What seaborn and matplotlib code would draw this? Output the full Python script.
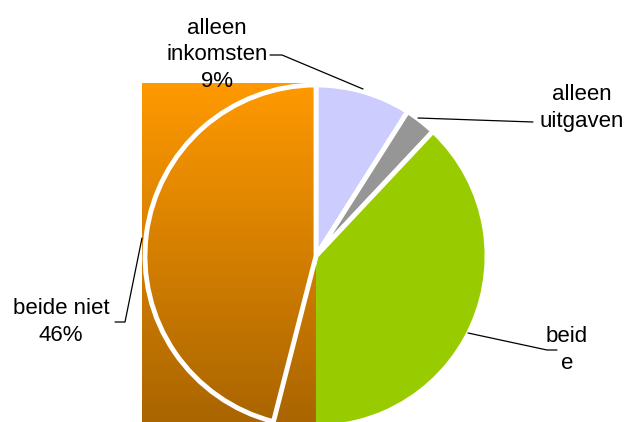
import numpy as np
import matplotlib.pyplot as plt
import seaborn as sns
from matplotlib.colors import LinearSegmentedColormap

# data
labels = ["alleen\ninkomsten", "alleen\nuitgaven", "beid\ne", "beide niet"]
values = [9, 3, 42, 46]
colors = ["#CCCCFF", "#969696", "#99CC00", "none"]

sns.set_style("white")
plt.rcParams["font.family"] = ["Liberation Sans", "DejaVu Sans"]

W, H = 630, 422
fig = plt.figure(figsize=(W / 100, H / 100), dpi=100)
ax = fig.add_axes([0, 0, 1, 1])

cx, cy, r = 316, H - 256, 171

wedges, _ = ax.pie(values, colors=colors, startangle=90, counterclock=False,
                   center=(cx, cy), radius=r, frame=True,
                   wedgeprops=dict(edgecolor="white", linewidth=3.5))
ax.set_xlim(0, W)
ax.set_ylim(0, H)
ax.set_aspect("equal")
ax.axis("off")

# gradient fill box behind "beide niet" (Excel style)
cmap = LinearSegmentedColormap.from_list("oranje", ["#A86400", "#FF9900"])
grad = np.linspace(0, 1, 256).reshape(-1, 1)
ax.imshow(grad, cmap=cmap, origin="lower", aspect="auto",
          extent=[cx - r - 3, cx, cy - r - 3, cy + r + 2], zorder=3)
wedges[3].set_zorder(5)

fs = 16
kw = dict(fontsize=fs, ha="center", va="center", color="black", linespacing=1.33, zorder=6)
line = dict(color="black", lw=0.9, zorder=6)

# alleen inkomsten
ax.text(217, H - 55, labels[0] + f"\n{values[0]}%", **kw)
ax.plot([270, 282, 363], [H - 55, H - 55, H - 89], **line)
# alleen uitgaven
ax.text(582, H - 108, labels[1], **kw)
ax.plot([418, 533], [H - 118, H - 122], **line)
# beide
ax.text(567, H - 350, labels[2], **kw)
ax.plot([468, 547, 557], [H - 333, H - 350, H - 350], **line)
# beide niet
ax.text(61, H - 322, labels[3] + f"\n{values[3]}%", **kw)
ax.plot([115, 125, 142], [H - 322, H - 322, H - 238], **line)

plt.savefig("out.png", dpi=100)
